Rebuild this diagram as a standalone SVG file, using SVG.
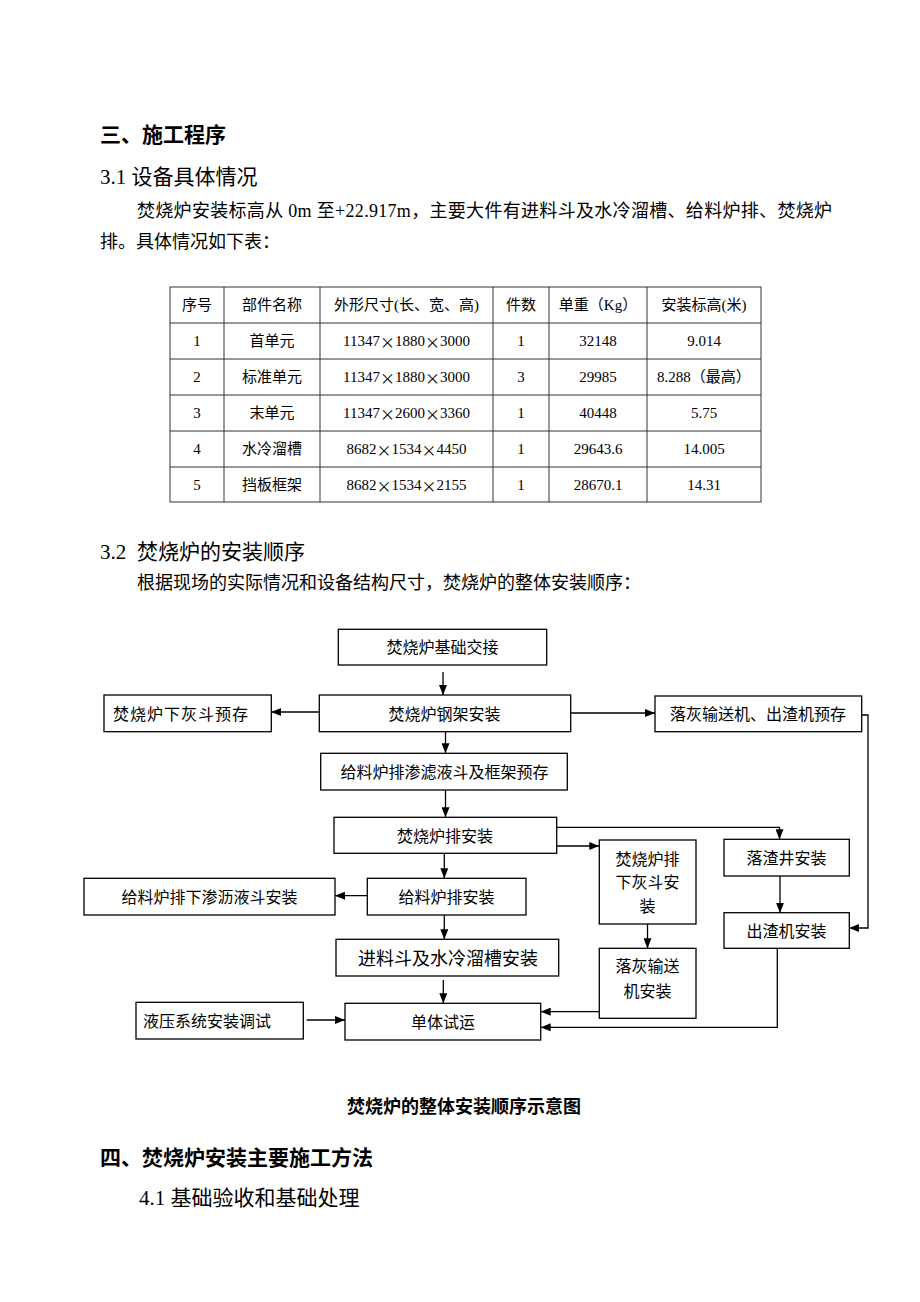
<svg xmlns="http://www.w3.org/2000/svg" width="920" height="1302" viewBox="0 0 920 1302">
<style>
.t{font-family:"Liberation Serif","Noto Sans CJK SC",serif;fill:#000}
.h{font-family:"Noto Sans CJK SC","Liberation Sans",sans-serif;font-weight:bold;fill:#000}
.c{text-anchor:middle;dominant-baseline:central}
.tb{font-size:15px}
.fb{font-size:16px}
.box{fill:#fff;stroke:#000;stroke-width:1.3}
.ln{fill:none;stroke:#000;stroke-width:1.3}
.grid{fill:none;stroke:#333;stroke-width:1}
.x{font-family:"Noto Sans CJK SC",sans-serif}
</style>
<defs>
<marker id="ah" markerUnits="userSpaceOnUse" markerWidth="10" markerHeight="8" refX="10" refY="4" orient="auto">
<path d="M0,0 L10,4 L0,8 z" fill="#000"/>
</marker>
</defs>
<rect width="920" height="1302" fill="#fff"/>

<g id="headings">
<text class="h" x="100" y="142" font-size="21">三、施工程序</text>
<text class="t" x="100" y="184" font-size="21">3.1 设备具体情况</text>
<text class="t" x="137" y="217" font-size="18" textLength="695" lengthAdjust="spacing">焚烧炉安装标高从 0m 至+22.917m，主要大件有进料斗及水冷溜槽、给料炉排、焚烧炉</text>
<text class="t" x="100" y="248" font-size="18">排。具体情况如下表：</text>
<text class="t" x="100" y="559" font-size="21">3.2</text>
<text class="t" x="137" y="559" font-size="21">焚烧炉的安装顺序</text>
<text class="t" x="137" y="589" font-size="18">根据现场的实际情况和设备结构尺寸，焚烧炉的整体安装顺序：</text>
<text class="h" x="464" y="1113" font-size="18" text-anchor="middle">焚烧炉的整体安装顺序示意图</text>
<text class="h" x="100" y="1165" font-size="21">四、焚烧炉安装主要施工方法</text>
<text class="t" x="139" y="1205" font-size="21">4.1 基础验收和基础处理</text>
</g>

<g id="table">
<rect class="grid" x="170" y="287" width="591" height="215"/>
<path class="grid" d="M170,323H761M170,359H761M170,395H761M170,431H761M170,467H761M224,287V502M320,287V502M493,287V502M549,287V502M647,287V502"/>
<g class="t tb c">
<text x="197" y="305">序号</text><text x="272" y="305">部件名称</text><text x="406.5" y="305">外形尺寸(长、宽、高)</text><text x="521" y="305">件数</text><text x="598" y="305">单重（Kg）</text><text x="704" y="305">安装标高(米)</text>
<text x="197" y="341">1</text><text x="272" y="341">首单元</text><text x="406.5" y="341">11347<tspan class="x">×</tspan>1880<tspan class="x">×</tspan>3000</text><text x="521" y="341">1</text><text x="598" y="341">32148</text><text x="704" y="341">9.014</text>
<text x="197" y="377">2</text><text x="272" y="377">标准单元</text><text x="406.5" y="377">11347<tspan class="x">×</tspan>1880<tspan class="x">×</tspan>3000</text><text x="521" y="377">3</text><text x="598" y="377">29985</text><text x="704" y="377">8.288（最高）</text>
<text x="197" y="413">3</text><text x="272" y="413">末单元</text><text x="406.5" y="413">11347<tspan class="x">×</tspan>2600<tspan class="x">×</tspan>3360</text><text x="521" y="413">1</text><text x="598" y="413">40448</text><text x="704" y="413">5.75</text>
<text x="197" y="449">4</text><text x="272" y="449">水冷溜槽</text><text x="406.5" y="449">8682<tspan class="x">×</tspan>1534<tspan class="x">×</tspan>4450</text><text x="521" y="449">1</text><text x="598" y="449">29643.6</text><text x="704" y="449">14.005</text>
<text x="197" y="485">5</text><text x="272" y="485">挡板框架</text><text x="406.5" y="485">8682<tspan class="x">×</tspan>1534<tspan class="x">×</tspan>2155</text><text x="521" y="485">1</text><text x="598" y="485">28670.1</text><text x="704" y="485">14.31</text>
</g>
</g>

<g id="connectors">
<path class="ln" marker-end="url(#ah)" d="M443,672V695"/>
<path class="ln" marker-end="url(#ah)" d="M320,712H271.3"/>
<path class="ln" marker-end="url(#ah)" d="M570.7,713H655"/>
<path class="ln" marker-end="url(#ah)" d="M861.7,715H868V928H849.3"/>
<path class="ln" marker-end="url(#ah)" d="M445.5,731.7V753.3"/>
<path class="ln" marker-end="url(#ah)" d="M445.5,790V817.3"/>
<path class="ln" marker-end="url(#ah)" d="M556.7,827.3H779.5V839.3"/>
<path class="ln" marker-end="url(#ah)" d="M556.7,846H599.3"/>
<path class="ln" marker-end="url(#ah)" d="M780,876V912.7"/>
<path class="ln" marker-end="url(#ah)" d="M647.5,924V948.3"/>
<path class="ln" marker-end="url(#ah)" d="M599.3,1011.7H540.7"/>
<path class="ln" marker-end="url(#ah)" d="M777.3,948.3V1027.3H540.7"/>
<path class="ln" marker-end="url(#ah)" d="M444.3,853.3V878.3"/>
<path class="ln" marker-end="url(#ah)" d="M367.3,895.7H335"/>
<path class="ln" marker-end="url(#ah)" d="M444.3,915V939.3"/>
<path class="ln" marker-end="url(#ah)" d="M443.3,980V1003.3"/>
<path class="ln" marker-end="url(#ah)" d="M306.7,1020H345"/>
</g>

<g id="n_jichu"><rect class="box" x="338.3" y="629.3" width="208.4" height="35.7"/><text class="t fb c" x="442.5" y="647">焚烧炉基础交接</text></g>
<g id="n_gangjia"><rect class="box" x="319.3" y="695" width="251.4" height="36.7"/><text class="t fb c" x="444.5" y="714">焚烧炉钢架安装</text></g>
<g id="n_xiahuidou_yucun"><rect class="box" x="104" y="695" width="167.3" height="36.7"/><text class="t fb c" x="181" y="714" letter-spacing="1">焚烧炉下灰斗预存</text></g>
<g id="n_luohui_yucun"><rect class="box" x="655" y="696" width="206.7" height="35.7"/><text class="t fb c" x="758" y="714.5">落灰输送机、出渣机预存</text></g>
<g id="n_geiliao_yucun"><rect class="box" x="320.7" y="753.3" width="246.6" height="36.7"/><text class="t fb c" x="444.5" y="772">给料炉排渗滤液斗及框架预存</text></g>
<g id="n_lupai"><rect class="box" x="334" y="817.3" width="222.7" height="36"/><text class="t fb c" x="445" y="836">焚烧炉排安装</text></g>
<g id="n_xiahuidou_anzhuang"><rect class="box" x="599.3" y="840" width="96.7" height="84"/><text class="t fb c" x="647.5" y="859.3">焚烧炉排</text><text class="t fb c" x="647.5" y="882.7">下灰斗安</text><text class="t fb c" x="647.5" y="906">装</text></g>
<g id="n_luozhajing"><rect class="box" x="724" y="839.3" width="125.3" height="36.7"/><text class="t fb c" x="786.5" y="858.5">落渣井安装</text></g>
<g id="n_chuzhaji"><rect class="box" x="724" y="912.7" width="125.3" height="35.6"/><text class="t fb c" x="786.5" y="931">出渣机安装</text></g>
<g id="n_luohui_anzhuang"><rect class="box" x="599.3" y="948.3" width="96.7" height="70"/><text class="t fb c" x="647.5" y="966.7">落灰输送</text><text class="t fb c" x="647.5" y="991.7">机安装</text></g>
<g id="n_geiliao_lupai"><rect class="box" x="367.3" y="878.3" width="158.7" height="36.7"/><text class="t fb c" x="446.5" y="897.5">给料炉排安装</text></g>
<g id="n_shenliye"><rect class="box" x="84" y="878.3" width="251" height="36.7"/><text class="t fb c" x="209.5" y="897.5">给料炉排下渗沥液斗安装</text></g>
<g id="n_jinliaodou"><rect class="box" x="336" y="939.3" width="222.7" height="36.7"/><text class="t c" font-size="18" x="448" y="958.5">进料斗及水冷溜槽安装</text></g>
<g id="n_yeya"><rect class="box" x="136" y="1002.3" width="167.3" height="36.7"/><text class="t fb c" x="207" y="1021.5">液压系统安装调试</text></g>
<g id="n_shiyun"><rect class="box" x="345" y="1003.3" width="195.7" height="36.7"/><text class="t fb c" x="443" y="1022.5">单体试运</text></g>
</svg>
